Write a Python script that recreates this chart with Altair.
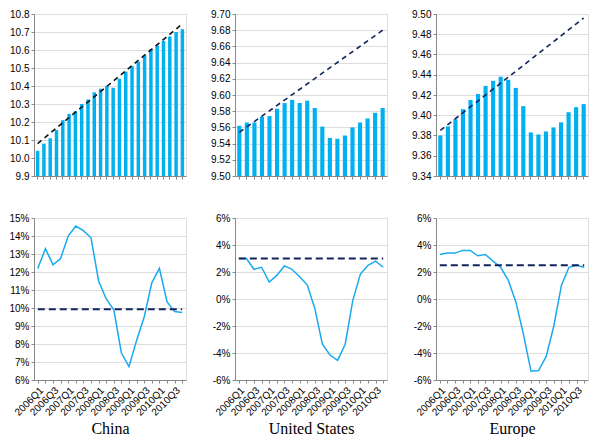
import altair as alt
import pandas as pd

# ---------------- data ----------------
Q24 = ["2005Q1", "2005Q2", "2005Q3", "2005Q4",
       "2006Q1", "2006Q2", "2006Q3", "2006Q4",
       "2007Q1", "2007Q2", "2007Q3", "2007Q4",
       "2008Q1", "2008Q2", "2008Q3", "2008Q4",
       "2009Q1", "2009Q2", "2009Q3", "2009Q4",
       "2010Q1", "2010Q2", "2010Q3", "2010Q4"]
Q20 = Q24[4:]

china_level = [10.04, 10.08, 10.11, 10.155, 10.21, 10.245, 10.26, 10.30,
               10.325, 10.365, 10.385, 10.40, 10.39, 10.44, 10.48, 10.51,
               10.535, 10.57, 10.605, 10.625, 10.65, 10.675, 10.70, 10.715]
china_trend = [10.08, 10.745]
us_level = [9.562, 9.566, 9.566, 9.573, 9.574, 9.583, 9.590, 9.594, 9.590, 9.593,
            9.584, 9.561, 9.547, 9.546, 9.550, 9.560, 9.566, 9.571, 9.578, 9.584]
us_trend = [9.554, 9.680]
eu_level = [9.380, 9.389, 9.396, 9.406, 9.415, 9.421, 9.429, 9.434, 9.438, 9.435,
            9.427, 9.409, 9.383, 9.381, 9.384, 9.388, 9.393, 9.403, 9.408, 9.411]
eu_trend = [9.385, 9.496]

china_growth = [12.2, 13.3, 12.4, 12.75, 14.0, 14.55, 14.3, 13.9, 11.5, 10.5,
                9.9, 7.5, 6.75, 8.2, 9.5, 11.4, 12.2, 10.35, 9.8, 9.75]
china_avg = 9.93
us_growth = [3.0, 3.0, 2.2, 2.35, 1.25, 1.75, 2.45, 2.2, 1.65, 1.05,
             -0.7, -3.35, -4.15, -4.55, -3.35, -0.1, 1.85, 2.5, 2.8, 2.35]
us_avg = 3.0
eu_growth = [3.3, 3.4, 3.4, 3.6, 3.6, 3.2, 3.3, 2.8, 2.35, 1.4,
             -0.2, -2.6, -5.35, -5.3, -4.25, -2.0, 1.0, 2.35, 2.5, 2.35]
eu_avg = 2.5

china_level_ticks = [9.9, 10.0, 10.1, 10.2, 10.3, 10.4, 10.5, 10.6, 10.7, 10.8]
us_level_ticks = [9.50, 9.52, 9.54, 9.56, 9.58, 9.60, 9.62, 9.64, 9.66, 9.68, 9.70]
eu_level_ticks = [9.34, 9.36, 9.38, 9.40, 9.42, 9.44, 9.46, 9.48, 9.50]
china_growth_ticks = [6, 7, 8, 9, 10, 11, 12, 13, 14, 15]
other_growth_ticks = [-6, -4, -2, 0, 2, 4, 6]

titles = ["China", "United States", "Europe"]

W, H = 152, 162
BAR = "#00b0f0"
LINE = "#1aa9ef"
NAVY = "#12245e"


def level_chart(quarters, values, trend, dom, ticks, fmt, trend_color):
    df = pd.DataFrame({"q": quarters, "v": values})
    tdf = pd.DataFrame({"q": [quarters[0], quarters[-1]], "v": trend})
    x = alt.X("q:N", sort=quarters,
              scale=alt.Scale(paddingInner=0.45, paddingOuter=0.3),
              axis=alt.Axis(labels=False, title=None, ticks=True, tickSize=3, grid=False))
    y = alt.Y("v:Q", scale=alt.Scale(domain=dom, zero=False, nice=False),
              axis=alt.Axis(values=ticks, format=fmt, title=None, labelOverlap=False,
                            tickSize=3))
    bars = alt.Chart(df).mark_bar(color=BAR).encode(x=x, y=y, y2=alt.datum(dom[0]))
    tl = alt.Chart(tdf).mark_line(color=trend_color, strokeDash=[5, 4], strokeWidth=1.6).encode(
        x=x, y=y)
    return alt.layer(bars, tl).properties(width=W, height=H)


def growth_chart(values, avg, dom, ticks, title):
    df = pd.DataFrame({"q": Q20, "v": values})
    adf = pd.DataFrame({"q": [Q20[0], Q20[-1]], "v": [avg, avg]})
    x = alt.X("q:O", sort=Q20, scale=alt.Scale(type="point", padding=0.5),
              axis=alt.Axis(title=title, labelAngle=-45, grid=False, tickSize=3,
                            labelOverlap=False, labelPadding=2,
                            labelExpr="indexof(datum.label,'Q2')>=0 || indexof(datum.label,'Q4')>=0 ? '' : datum.label",
                            titleFont="Liberation Serif", titleFontSize=16,
                            titleFontWeight="normal", titleColor="#000000", titlePadding=3))
    y = alt.Y("v:Q", scale=alt.Scale(domain=dom, zero=False, nice=False),
              axis=alt.Axis(values=ticks, title=None, labelOverlap=False, tickSize=3,
                            labelExpr="datum.value + '%'"))
    line = alt.Chart(df).mark_line(color=LINE, strokeWidth=1.5).encode(x=x, y=y)
    avgl = alt.Chart(adf).mark_line(color=NAVY, strokeDash=[7, 4], strokeWidth=2.2).encode(
        x=x, y=y)
    return alt.layer(line, avgl).properties(width=W, height=H)


charts = [
    level_chart(Q24, china_level, china_trend, [9.9, 10.8], china_level_ticks, ".1f", "#111111"),
    level_chart(Q20, us_level, us_trend, [9.50, 9.70], us_level_ticks, ".2f", NAVY),
    level_chart(Q20, eu_level, eu_trend, [9.34, 9.50], eu_level_ticks, ".2f", NAVY),
    growth_chart(china_growth, china_avg, [6, 15], china_growth_ticks, titles[0]),
    growth_chart(us_growth, us_avg, [-6, 6], other_growth_ticks, titles[1]),
    growth_chart(eu_growth, eu_avg, [-6, 6], other_growth_ticks, titles[2]),
]

chart = alt.concat(*charts, columns=3, spacing=alt.RowColnumber(row=30, column=20)).configure_view(
    stroke=None
).configure_axis(
    labelFont="Liberation Sans", labelFontSize=8.5, labelColor="#404040",
    gridColor="#ececec", domainColor="#c8c8c8", tickColor="#c8c8c8", labelPadding=3
).configure(padding=0)

chart.save("out.html", embed_options={"renderer": "svg", "actions": False})
